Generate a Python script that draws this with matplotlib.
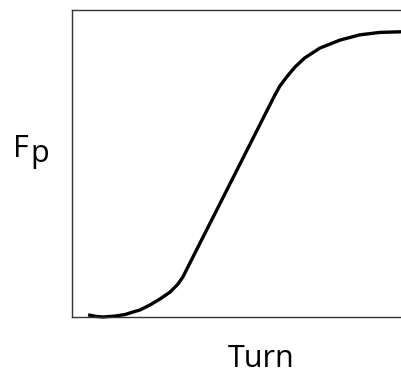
import matplotlib
matplotlib.use("Agg")
import matplotlib.pyplot as plt

# curve (arbitrary units, axes 0..10)
turn = [0.49, 0.73, 0.94, 1.31, 1.61, 1.85, 2.07, 2.37, 2.68, 2.98, 3.22, 3.37,
        6.17, 6.32, 6.53, 6.78, 7.08, 7.54, 8.15, 8.75, 9.36, 10.0, 10.3]
fp = [0.07, 0.02, 0.0, 0.03, 0.08, 0.16, 0.23, 0.39, 0.59, 0.81, 1.07, 1.30,
      7.23, 7.52, 7.82, 8.14, 8.44, 8.76, 9.02, 9.19, 9.27, 9.29, 9.29]

fig = plt.figure(figsize=(4.01, 3.75), dpi=100)
L = 72 / 401
B = (375 - 317) / 375
T = (375 - 10) / 375
ax = fig.add_axes([L, B, 1.02 - L, T - B])
ax.plot(turn, fp, color="black", lw=2.4, solid_capstyle="butt",
        solid_joinstyle="round", clip_on=False)
ax.set_xlim(0, 10.25)
ax.set_ylim(0, 10)
ax.set_xticks([])
ax.set_yticks([])
for s in ax.spines.values():
    s.set_linewidth(1.0)
    s.set_color("#333333")
ax.spines["right"].set_visible(False)

fs = 22
fam = ["Open Sans", "DejaVu Sans"]
fig.text(13 / 401, 1 - 157 / 375, "F", fontsize=fs, ha="left", va="baseline", family=fam)
fig.text(30 / 401, 1 - 162 / 375, "p", fontsize=fs, ha="left", va="baseline", family=fam)
fig.text(261 / 401, 1 - 367 / 375, "Turn", fontsize=fs, ha="center", va="baseline", family=fam)

fig.savefig("out.png", dpi=100)
